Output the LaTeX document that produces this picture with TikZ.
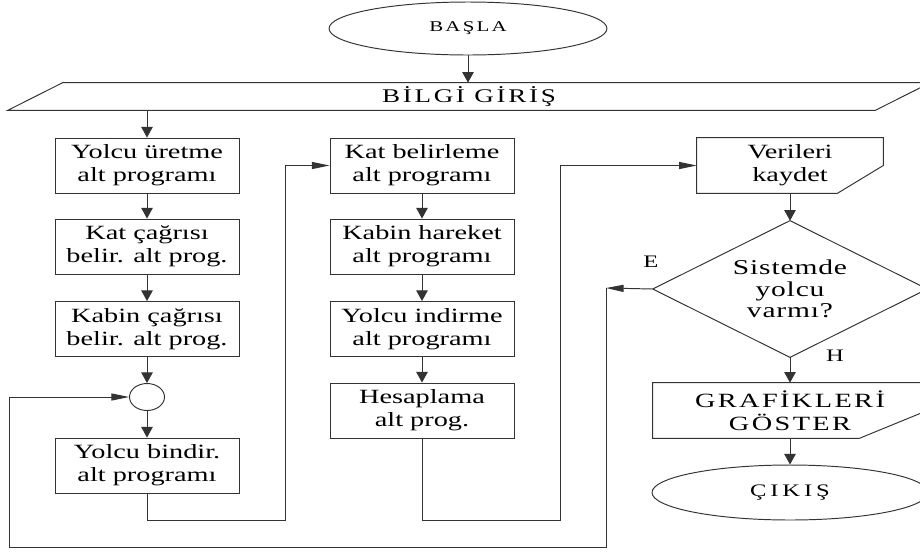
\documentclass[tikz,border=0pt]{standalone}
\usepackage{fontspec}
\setmainfont{Liberation Serif}[FakeStretch=1.4]
\usetikzlibrary{shapes.geometric,arrows.meta}
\newcommand{\yazi}{\fontsize{11.5}{13}\selectfont}

\begin{document}
\begin{tikzpicture}[x=0.02cm,y=-0.02cm,
    cizgi/.style={draw=black!80, line width=0.55pt},
    okdik/.style={cizgi, -{Triangle[length=6pt,width=6.5pt]}},
    okyan/.style={cizgi, -{Triangle[length=10pt,width=4pt]}},
    kutu/.style={cizgi, rectangle, minimum width=3.68cm, minimum height=1.1cm, inner sep=0pt, align=center, font=\yazi},
    bos/.style={rectangle, inner sep=0pt, align=center},
    uc/.style={cizgi, ellipse, inner sep=0pt}]
  \useasboundingbox (0,0) rectangle (920,552);
  \clip (0,0) rectangle (920,552);

  \node[uc, minimum width=5.56cm, minimum height=1.06cm,
    font={\fontsize{8.5}{10}\selectfont\addfontfeatures{LetterSpace=15}}] (basla) at (468,28.5) {BAŞLA};
  \node[bos, minimum width=16.24cm, minimum height=0.54cm,
    font={\fontsize{11}{12}\selectfont\addfontfeatures{LetterSpace=14}}] (giris) at (469,96.5) {BİLGİ GİRİŞ};
  \draw[cizgi] ([xshift=-1.1cm]giris.south west) -- (giris.north west)
    -- ([xshift=1.1cm]giris.north east) -- (giris.south east) -- cycle;

  \node[kutu] (y1) at (147,165.5) {Yolcu üretme\\alt programı};
  \node[kutu] (y2) at (147,246.5) {Kat çağrısı\\belir. alt prog.};
  \node[kutu] (y3) at (147,329) {Kabin çağrısı\\belir. alt prog.};
  \node[uc, minimum width=0.7cm, minimum height=0.54cm] (daire) at (147,397) {};
  \node[kutu] (y4) at (147,465.5) {Yolcu bindir.\\alt programı};

  \node[kutu] (k1) at (422,165.5) {Kat belirleme\\alt programı};
  \node[kutu] (k2) at (422,246.5) {Kabin hareket\\alt programı};
  \node[kutu] (k3) at (422,329) {Yolcu indirme\\alt programı};
  \node[kutu] (k4) at (422,410.5) {Hesaplama\\alt prog.};

  \node[bos, minimum width=3.72cm, minimum height=1.1cm, font=\yazi] (kaydet) at (790,165.5) {Verileri\\kaydet};
  \draw[cizgi] (kaydet.north west) -- (kaydet.north east) -- (kaydet.east)
    -- ([xshift=-0.92cm]kaydet.south east) -- (kaydet.south west) -- cycle;
  \node[bos, minimum width=5.48cm, minimum height=2.72cm,
    font={\fontsize{12}{12.2}\selectfont\addfontfeatures{LetterSpace=4}}] (soru) at (790,289) {Sistemde\\yolcu\\varmı?};
  \draw[cizgi] (soru.north) -- (soru.east) -- (soru.south) -- (soru.west) -- cycle;
  \node[bos, minimum width=5.48cm, minimum height=1.1cm,
    font={\fontsize{11.5}{13}\selectfont\addfontfeatures{LetterSpace=12}}] (grafik) at (790,410.5) {GRAFİKLERİ\\GÖSTER};
  \draw[cizgi] (grafik.north west) -- (grafik.north east) -- (grafik.east)
    -- ([xshift=-1.36cm]grafik.south east) -- (grafik.south west) -- cycle;
  \node[uc, minimum width=5.52cm, minimum height=1.1cm,
    font={\fontsize{10}{11}\selectfont\addfontfeatures{LetterSpace=22}}] (cikis) at (790,492.5) {ÇIKIŞ};

  \node[font={\fontsize{10}{12}\selectfont}] (evet) at (651,262) {E};
  \node[font={\fontsize{10}{12}\selectfont}] (hayir) at (835,356) {H};

  \coordinate (alt1) at (285,520);
  \coordinate (alt2) at (560,520);
  \coordinate (donus) at (606,288);
  \coordinate (solalt) at (9,547);

  \draw[okdik] (basla) -- (basla.south |- giris.north);
  \draw[okdik] (y1.north |- giris.south) -- (y1);
  \draw[okdik] (y1) -- (y2);
  \draw[okdik] (y2) -- (y3);
  \draw[okdik] (y3) -- (daire);
  \draw[okdik] (daire) -- (y4);
  \draw[okyan] (y4.south) |- (alt1) |- (k1.west);
  \draw[okdik] (k1) -- (k2);
  \draw[okdik] (k2) -- (k3);
  \draw[okdik] (k3) -- (k4);
  \draw[okyan] (k4.south) |- (alt2) |- (kaydet.west);
  \draw[okdik] (kaydet) -- (soru);
  \draw[okyan] (soru.west) -- (donus);
  \draw[okyan] (donus) |- (solalt) |- (daire.west);
  \draw[okdik] (soru) -- (grafik);
  \draw[okdik] (grafik) -- (cikis);
\end{tikzpicture}
\end{document}
